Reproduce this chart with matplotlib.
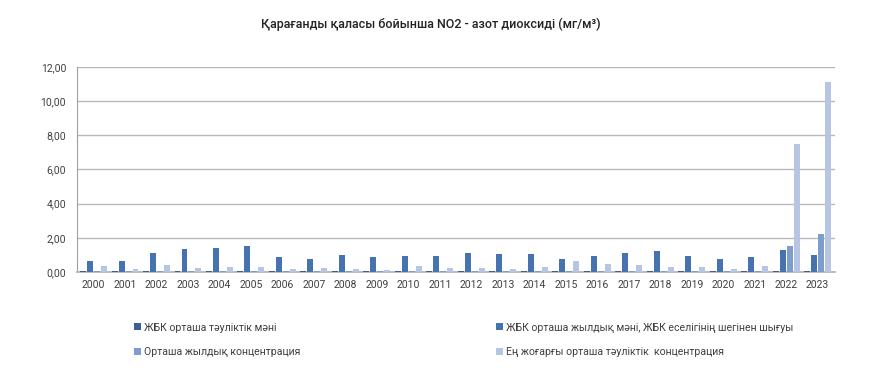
import numpy as np
import matplotlib
matplotlib.use('Agg')
import matplotlib.pyplot as plt

plt.rcParams['font.family'] = ['Roboto', 'DejaVu Sans']

years = [str(y) for y in range(2000, 2024)]

# ЖБК орташа тәуліктік мәні
mpc_daily = [0.04] * 24
# ЖБК орташа жылдық мәні, ЖБК еселігінің шегінен шығуы
mpc_annual = [0.61, 0.61, 1.12, 1.33, 1.41, 1.53, 0.88, 0.76, 1.00, 0.88,
              0.96, 0.96, 1.12, 1.02, 1.02, 0.78, 0.92, 1.08, 1.24, 0.96,
              0.78, 0.86, 1.29, 0.98]
# Орташа жылдық концентрация
annual_conc = [0.03, 0.03, 0.03, 0.03, 0.03, 0.08, 0.03, 0.03, 0.03, 0.03,
               0.03, 0.03, 0.03, 0.03, 0.03, 0.03, 0.03, 0.03, 0.03, 0.03,
               0.03, 0.03, 1.51, 2.20]
# Ең жоғарғы орташа тәуліктік концентрация
max_daily = [0.37, 0.18, 0.41, 0.24, 0.29, 0.29, 0.16, 0.25, 0.18, 0.14,
             0.35, 0.25, 0.22, 0.18, 0.27, 0.61, 0.49, 0.43, 0.27, 0.29,
             0.16, 0.37, 7.51, 11.10]

labels = ['ЖБК орташа тәуліктік мәні',
          'ЖБК орташа жылдық мәні, ЖБК еселігінің шегінен шығуы',
          'Орташа жылдық концентрация',
          'Ең жоғарғы орташа тәуліктік  концентрация']
colors = ['#3b5f96', '#4673b0', '#7f9dcc', '#b5c5e2']
series = [mpc_daily, mpc_annual, annual_conc, max_daily]

fig = plt.figure(figsize=(8.87, 3.89), dpi=100)
ax = fig.add_axes([0.087, 0.301, 0.854, 0.527])

x = np.arange(len(years))
step = 0.222
width = 0.19
bars = []
for i, (vals, lab, col) in enumerate(zip(series, labels, colors)):
    bars.append(ax.bar(x + (i - 1.5) * step, vals, width, color=col, label=lab, zorder=3))

ax.set_xlim(-0.52, 23.54)
ax.set_ylim(0, 12)
ax.set_yticks(np.arange(0, 13, 2))
ax.set_yticklabels(['{:.2f}'.format(v).replace('.', ',') for v in np.arange(0, 13, 2)])
ax.set_xticks(x)
ax.set_xticklabels(years)
ax.grid(axis='y', color='#b8b8b8', linewidth=1, zorder=0)
for s in ['top', 'right']:
    ax.spines[s].set_visible(False)
ax.spines['left'].set_color('#a0a0a0')
ax.spines['bottom'].set_color('#b0b0b0')
ax.spines['bottom'].set_linewidth(1.2)
ax.tick_params(axis='both', length=0, labelsize=7.5, labelcolor='#404040')
ax.tick_params(axis='x', pad=6)
ax.tick_params(axis='y', pad=8)

fig.text(0.486, 0.937, 'Қарағанды қаласы бойынша NO2 - азот диоксиді (мг/м³)',
         ha='center', va='center', fontsize=9, fontweight='medium', color='#222222')

# row-major legend order: matplotlib fills columns first
order = [0, 2, 1, 3]
fig.legend([bars[i] for i in order], [labels[i] for i in order],
           loc='upper left', bbox_to_anchor=(0.14, 0.195), ncol=2, frameon=False,
           fontsize=7.6, handlelength=0.65, handleheight=0.65, handletextpad=0.3,
           columnspacing=18.6, labelspacing=1.35, labelcolor='#404040')

fig.savefig('out.png', dpi=100)
